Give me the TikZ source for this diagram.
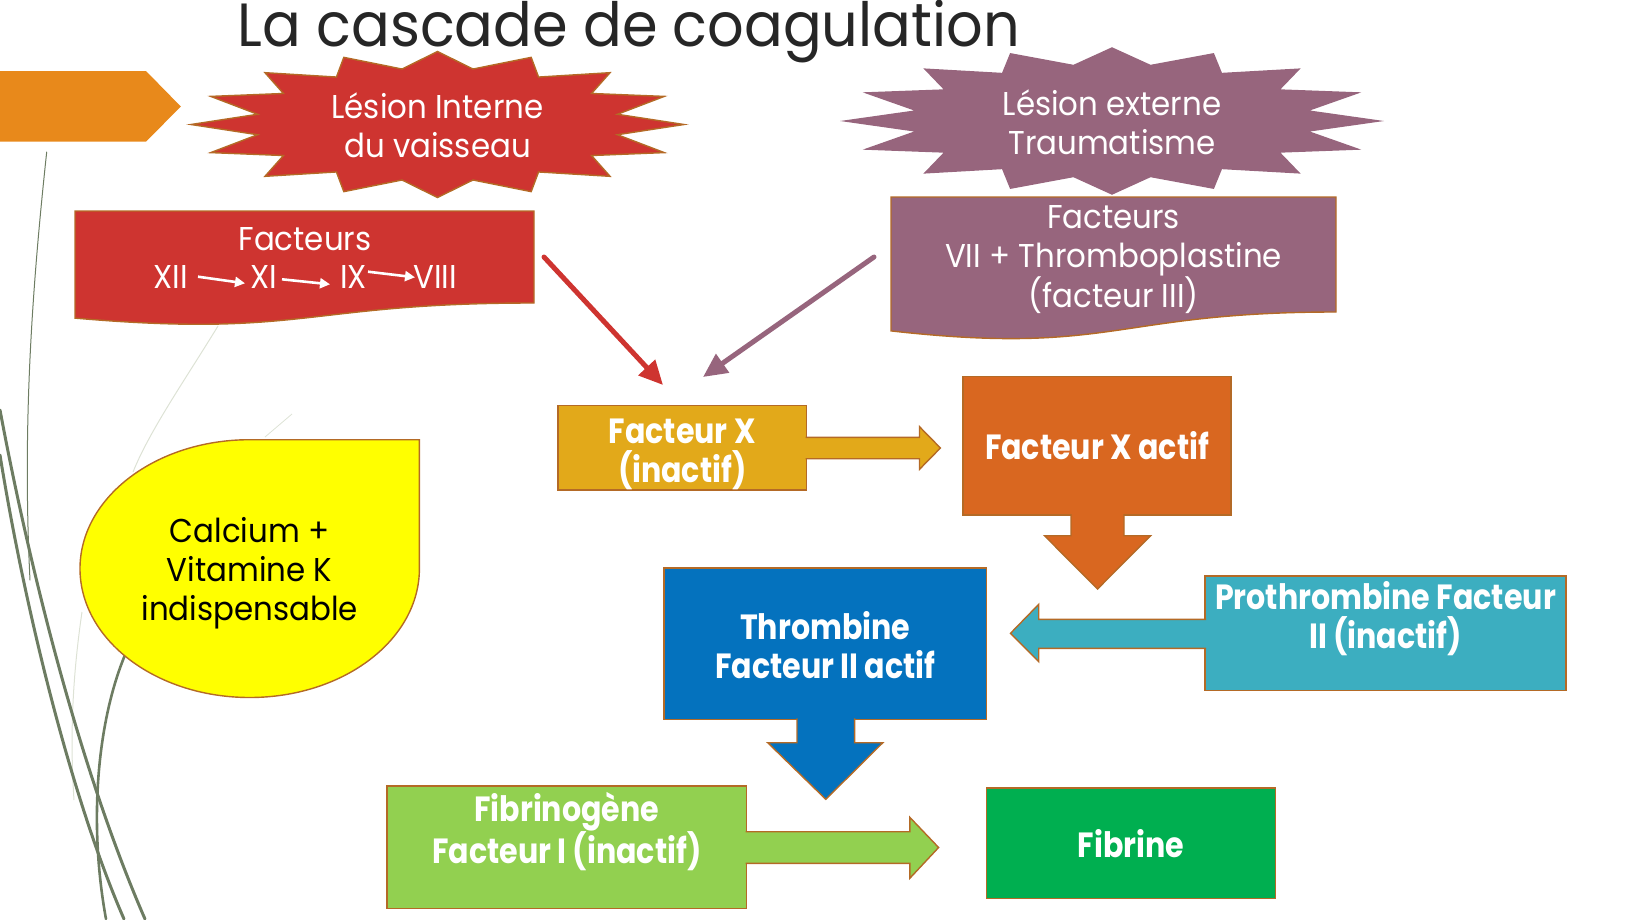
\documentclass[tikz,border=0pt]{standalone}
\usepackage{fontspec}
\setmainfont{Poppins}
\newfontfamily\ftitle{Poppins}[FakeStretch=0.94]
\newfontfamily\fnorm{Poppins}[FakeStretch=0.935]
\newfontfamily\fheavy{Poppins}[FakeStretch=0.86]
\usetikzlibrary{arrows.meta,calc}

\definecolor{redfill}{HTML}{CE3430}
\definecolor{mauve}{HTML}{97657D}
\definecolor{edge}{HTML}{B46A26}
\definecolor{gold}{HTML}{E2A91A}
\definecolor{actorange}{HTML}{D96720}
\definecolor{thrblue}{HTML}{0472BE}
\definecolor{proteal}{HTML}{3CAEC0}
\definecolor{lightgreen}{HTML}{92D050}
\definecolor{fibgreen}{HTML}{00AF50}
\definecolor{lemon}{HTML}{FFFF00}
\definecolor{tab}{HTML}{E8891B}
\definecolor{grass}{HTML}{6D7C62}
\definecolor{faint}{HTML}{DDE2D5}
\definecolor{titlegray}{HTML}{262626}

\newcommand{\burstpath}{(0,-1) -- (0.144,-0.76) -- (0.38,-0.92) -- (0.41,-0.65) -- (0.70,-0.71) -- (0.625,-0.425) -- (0.92,-0.385) -- (0.73,-0.14) -- (1,0) -- (0.73,0.14) -- (0.92,0.385) -- (0.625,0.425) -- (0.70,0.71) -- (0.41,0.65) -- (0.38,0.92) -- (0.144,0.76) -- (0,1) -- (-0.144,0.76) -- (-0.38,0.92) -- (-0.41,0.65) -- (-0.70,0.71) -- (-0.625,0.425) -- (-0.92,0.385) -- (-0.73,0.14) -- (-1,0) -- (-0.73,-0.14) -- (-0.92,-0.385) -- (-0.625,-0.425) -- (-0.70,-0.71) -- (-0.41,-0.65) -- (-0.38,-0.92) -- (-0.144,-0.76) -- cycle}

\begin{document}
\begin{tikzpicture}[x=1pt,y=-1pt,
  outl/.style={draw=edge, line width=1.4pt},
  lighttext/.style={text=white, align=center, inner sep=0pt,
    font={\fnorm\fontsize{33pt}{38.8pt}\selectfont}},
  darktext/.style={text=black, align=center, inner sep=0pt,
    font={\fnorm\fontsize{33pt}{38.8pt}\selectfont}},
  boldtext/.style={text=white, align=center, inner sep=0pt,
    font={\fheavy\bfseries\fontsize{35pt}{39pt}\selectfont}},
  box/.style={outl, rectangle, inner sep=0pt},
  thickline/.style={line width=5pt, -{Triangle[length=24pt,width=22pt]}},
  whitearrow/.style={white, line width=2.6pt, -{Triangle[length=10pt,width=10pt]}},
  grassline/.style={grass, line cap=round},
]
\useasboundingbox (0,0) rectangle (1631,919);

% background grass strokes along the left side
\draw[faint, line width=1pt] (218,326) .. controls (185,380) and (150,430) .. (133,472);
\draw[faint, line width=0.8pt] (292,414) -- (265,437);
\draw[faint, line width=1pt] (82,612) .. controls (72,680) and (70,740) .. (74,800);
\draw[grassline, line width=1pt] (46.7,152) .. controls (33,280) and (22,420) .. (30,580);
\draw[grassline, line width=3pt] (0,410) .. controls (30,570) and (80,770) .. (145,919);
\draw[grassline, line width=3pt] (0,455) .. controls (25,610) and (72,800) .. (124,919);
\draw[grassline, line width=2.6pt] (125,655) .. controls (98,720) and (88,820) .. (106,919);

% orange tab in the top left corner
\fill[tab] (0,71) -- (146,71) -- (180.8,106.5) -- (146,141.7) -- (0,141.7) -- cycle;

% title
\node[anchor=base west, inner sep=0pt, text=titlegray,
      font={\ftitle\fontsize{61pt}{70pt}\selectfont}] (title) at (237.6,46.7) {La cascade de coagulation};

% starbursts
\path[outl, fill=redfill, shift={(437.5,124.5)}, xscale=246.5, yscale=73] \burstpath;
\node[lighttext] (lesionint) at (437.5,125) {Lésion Interne\\du vaisseau};
\path[draw=mauve, line width=1.4pt, fill=mauve, shift={(1112,121)}, xscale=267, yscale=73] \burstpath;
\node[lighttext] (lesionext) at (1112,122) {Lésion externe\\Traumatisme};

% document shapes with wavy bottoms
\path[outl, fill=redfill] (75,211) -- (534,211) -- (534,303)
   .. controls (304.5,303) and (304.5,338.1) .. (75,318.1) -- cycle;
\node[lighttext, anchor=base] (factint) at (305,250) {Facteurs};
\node[lighttext, anchor=base] (n12) at (171,288.3) {XII};
\node[lighttext, anchor=base] (n11) at (263.5,288.3) {XI};
\node[lighttext, anchor=base] (n9) at (353.5,288.3) {IX};
\node[lighttext, anchor=base] (n8) at (435,288.3) {VIII};
\coordinate (a1s) at (198,276.7); \coordinate (a1e) at (245,283.3);
\coordinate (a2s) at (282,279.3); \coordinate (a2e) at (330,284.3);
\coordinate (a3s) at (368,271.7); \coordinate (a3e) at (415,277.3);
\draw[whitearrow] (a1s) -- (a1e);
\draw[whitearrow] (a2s) -- (a2e);
\draw[whitearrow] (a3s) -- (a3e);

\path[outl, fill=mauve] (891,197) -- (1336,197) -- (1336,312)
   .. controls (1113.5,312) and (1113.5,355.9) .. (891,330.9) -- cycle;
\node[lighttext] (factext) at (1113.5,259.5) {Facteurs\\VII + Thromboplastine\\(facteur III)};

% calcium / vitamin K teardrop
\path[outl, fill=lemon] (419.4,568.6) arc[start angle=0, end angle=270, x radius=169.7, y radius=128.9]
   -- (419.4,439.7) -- cycle;
\node[darktext] (calcium) at (249.7,573) {Calcium +\\Vitamine K\\indispensable};

% boxes of the cascade
\node[box, fill=gold, minimum width=248.5pt, minimum height=84.3pt] (fx) at (682.25,447.85) {};
\node[boldtext] (fxt) at (682.25,454) {Facteur X\\(inactif)};
\node[box, fill=actorange, minimum width=268pt, minimum height=138.3pt] (fxa) at (1097,445.85) {};
\node[boldtext] (fxat) at (fxa.center) {Facteur X actif};
\node[box, fill=thrblue, minimum width=322.5pt, minimum height=151.3pt] (thr) at (825.25,643.65) {};
\node[boldtext] (thrt) at (825.25,645.5) {Thrombine\\Facteur II actif};
\node[box, fill=proteal, minimum width=361pt, minimum height=114.7pt] (pro) at (1385.5,633.35) {};
\node[boldtext] (prot) at (1385.5,618.5) {Prothrombine Facteur\\II (inactif)};
\node[box, fill=lightgreen, minimum width=359.7pt, minimum height=122.7pt] (fbg) at (566.85,847.35) {};
\node[boldtext] (fbgt) at (566.85,831.5) {Fibrinogène\\Facteur I (inactif)};
\node[box, fill=fibgreen, minimum width=289pt, minimum height=110.3pt] (fib) at (1131,843.15) {};
\node[boldtext] (fibt) at (fib.center) {Fibrine};

% block arrows leaving the boxes
\filldraw[outl, fill=gold] (805.5,437.3) -- (919.5,437.3) -- (919.5,426.7) -- (940.4,448) -- (919.5,469.3) -- (919.5,458.7) -- (805.5,458.7);
\filldraw[outl, fill=actorange] (1071,514) -- (1071,535.7) -- (1044.5,535.7) -- (1097.5,589) -- (1150.7,535.7) -- (1124,535.7) -- (1124,514);
\filldraw[outl, fill=thrblue] (797,718.3) -- (797,742.7) -- (767.7,742.7) -- (825.8,799.3) -- (882.8,742.7) -- (854.6,742.7) -- (854.6,718.3);
\filldraw[outl, fill=proteal] (1206,619.3) -- (1038.7,619.3) -- (1038.7,604.3) -- (1010.5,633.3) -- (1038.7,661.7) -- (1038.7,648.3) -- (1206,648.3);
\filldraw[outl, fill=lightgreen] (745.7,831.7) -- (909.8,831.7) -- (909.8,817.3) -- (938.6,847.5) -- (909.8,878.3) -- (909.8,863.3) -- (745.7,863.3);

% the two pathways joining at factor X
\coordinate (rs) at (544,257); \coordinate (re) at (663,385);
\coordinate (ps) at (874,257); \coordinate (pe) at (703,377);
\draw[thickline, redfill, line cap=round] (rs) -- (re);
\draw[thickline, mauve, line cap=round] (ps) -- (pe);
\end{tikzpicture}
\end{document}
